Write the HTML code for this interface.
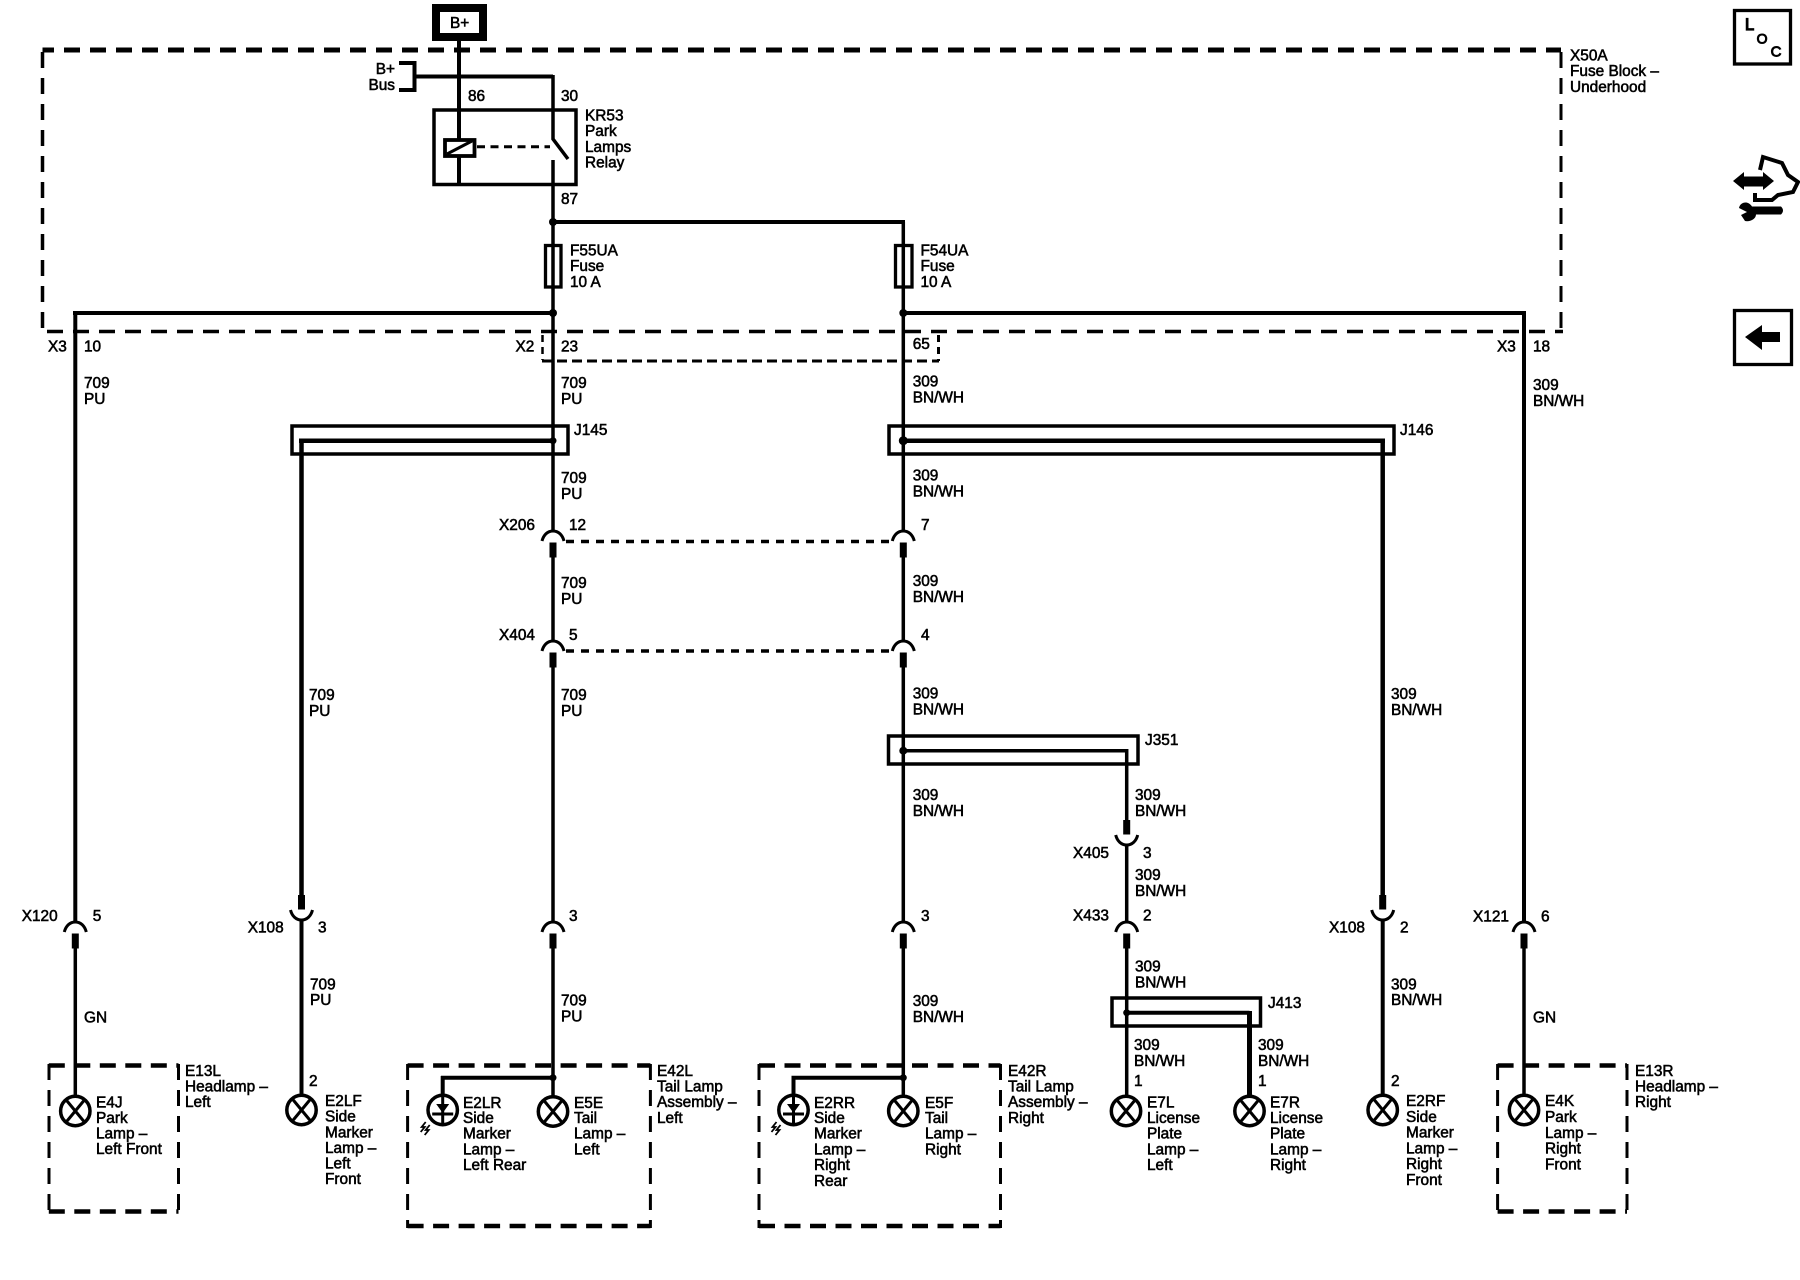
<!DOCTYPE html>
<html><head><meta charset="utf-8"><style>
html,body{margin:0;padding:0;background:#fff;width:1800px;height:1280px;overflow:hidden}
svg{display:block}
text{font-family:"Liberation Sans",sans-serif;font-size:15.4px;fill:#000;stroke:#000;stroke-width:.55px}
.w{fill:none;stroke:#000;stroke-width:4}
.b{fill:none;stroke:#000;stroke-width:3.5}
.th{fill:none;stroke:#000;stroke-width:3.5}
</style></head><body>
<svg width="1800" height="1280" viewBox="0 0 1800 1280" xmlns="http://www.w3.org/2000/svg">
<defs>
<g id="up"><path d="M-11 0C-9.500-6-5.500-10 0-10C5.500-10 9.500-6 11 0" fill="none" stroke="#000" stroke-width="3"/><rect x="-3.500" y="1.500" width="7" height="15"/></g>
<g id="dn"><path d="M-11 0C-9.500 6-5.500 10 0 10C5.500 10 9.500 6 11 0" fill="none" stroke="#000" stroke-width="3"/><rect x="-3.500" y="-15" width="7" height="14.500"/></g>
<g id="lamp"><circle r="14.700" fill="none" stroke="#000" stroke-width="3.500"/><path d="M-9.500-11.500L9.500 11.500M9.500-11.500L-9.500 11.500" stroke="#000" stroke-width="3"/></g>
<g id="led"><circle r="14.700" fill="none" stroke="#000" stroke-width="3.500"/><path d="M-6.500-6H6.500L0 3Z"/><path d="M0-15V15M-10.500 4H10.500" stroke="#000" stroke-width="3" fill="none"/><path d="M-17 12L-21 17L-18 17L-22 22M-13 15L-17 20L-14 20L-18 25" fill="none" stroke="#000" stroke-width="1.800"/></g>
</defs>

<!-- fuse block frame -->
<path d="M42.500 52H1561" fill="none" stroke="#000" stroke-width="5" stroke-dasharray="16 10" stroke-dashoffset="-21.500" transform="translate(0 -2)"/>
<path d="M42.500 48V331.500" fill="none" stroke="#000" stroke-width="3.500" stroke-dasharray="16 10" stroke-dashoffset="-4"/>
<path d="M1561 48V331.500" fill="none" stroke="#000" stroke-width="3" stroke-dasharray="16 10" stroke-dashoffset="-4"/>
<path d="M41 331.500H1563" fill="none" stroke="#000" stroke-width="3.500" stroke-dasharray="16 10" stroke-dashoffset="-6"/>
<!-- X2 -->
<path d="M542.500 335V360" fill="none" stroke="#000" stroke-width="2.500" stroke-dasharray="7 5"/>
<path d="M938.500 335V361" fill="none" stroke="#000" stroke-width="3" stroke-dasharray="7 5"/>
<path d="M542 361H939" fill="none" stroke="#000" stroke-width="3" stroke-dasharray="10 5"/>

<!-- B+ -->
<rect x="436" y="8" width="47" height="29" fill="#fff" stroke="#000" stroke-width="8"/>
<path class="w" d="M459 41V185"/>
<path class="w" d="M399 63H414.500V90H399M414.500 76.500H553"/>
<path class="b" d="M553 75V139L568 159"/>
<path class="b" d="M553 160V222"/>
<rect x="434" y="110" width="142" height="74.500" class="th"/>
<rect x="445" y="140" width="29.500" height="16" fill="#fff" stroke="#000" stroke-width="3.800"/>
<path d="M447 154L472 141" stroke="#000" stroke-width="3"/>
<path d="M477 146.700H550" fill="none" stroke="#000" stroke-width="3" stroke-dasharray="8 5.500"/>

<!-- main wires -->
<path class="w" d="M551 222H905"/>
<circle cx="553" cy="222" r="4"/>
<path class="b" d="M553 222V531"/>
<path class="b" d="M903.300 222V531"/>
<rect x="545.500" y="245.500" width="15.500" height="41.500" fill="none" stroke="#000" stroke-width="3.300"/>
<rect x="895.500" y="245.500" width="16.500" height="41.500" fill="none" stroke="#000" stroke-width="3.300"/>
<path d="M73 313H555M903 313H1526" fill="none" stroke="#000" stroke-width="4"/>
<circle cx="553" cy="313" r="4"/><circle cx="903.300" cy="313" r="4"/>
<path class="w" d="M75.300 312V923"/>
<path class="w" d="M1524 312V923"/>

<!-- J145 / J146 -->
<rect x="292" y="426" width="276" height="28" class="th"/>
<rect x="889" y="426" width="505" height="28" class="th"/>
<path d="M299 440.700H553M903 440.700H1385" fill="none" stroke="#000" stroke-width="4.500"/>
<circle cx="553" cy="440.700" r="3.500"/><circle cx="903.300" cy="440.700" r="4.500"/>
<path d="M301.500 439V896" fill="none" stroke="#000" stroke-width="4.500"/>
<path d="M1382.700 439V896" fill="none" stroke="#000" stroke-width="4.500"/>

<!-- dashed links -->
<path d="M566 541.500H893" fill="none" stroke="#000" stroke-width="3.500" stroke-dasharray="8 7"/>
<path d="M566 651H893" fill="none" stroke="#000" stroke-width="3.500" stroke-dasharray="8 7"/>

<!-- connectors -->
<use href="#up" x="553" y="541"/><use href="#up" x="903.300" y="541"/>
<use href="#up" x="553" y="651"/><use href="#up" x="903.300" y="651"/>
<path class="b" d="M553 556V641M903.300 556V641M553 666V922M903.300 666V922"/>
<use href="#up" x="75.300" y="932"/><use href="#up" x="553" y="932"/><use href="#up" x="903.300" y="932"/><use href="#up" x="1126.700" y="932"/><use href="#up" x="1524" y="932"/>
<use href="#dn" x="301.500" y="910"/><use href="#dn" x="1382.700" y="910"/><use href="#dn" x="1126.700" y="835"/>
<path class="b" d="M553 947V1097M903.300 947V1097M75.300 947V1097M1524 947V1097"/>
<path class="w" d="M301.500 919V1096M1382.700 919V1096"/>

<!-- J351 -->
<rect x="888.500" y="736" width="249.500" height="28" class="th"/>
<path class="b" d="M903 750.700H1126.700V822"/>
<circle cx="903.300" cy="750.700" r="4"/>
<path class="b" d="M1126.700 844V922M1126.700 947V1097"/>
<!-- J413 -->
<rect x="1112" y="998" width="148.500" height="28" class="th"/>
<path class="w" d="M1126.700 1012.700H1249.500"/>
<path d="M1249.500 1011V1097" fill="none" stroke="#000" stroke-width="5"/>
<circle cx="1126.700" cy="1012.700" r="3.500"/>

<!-- lamp groups -->
<g fill="none" stroke="#000">
<path stroke-width="4.500" stroke-dasharray="16 9.500" d="M48.800 1065.500H178.500M48.800 1211.500H178.500M407.600 1065.500H650.400M407.600 1226H650.400M759 1065.500H1000.500M759 1226H1000.500M1497.600 1065.500H1627M1497.600 1211.500H1627"/>
<path stroke-width="3" stroke-dasharray="16 10" d="M49 1064V1213M178.500 1064V1213M407.600 1064V1228M650.400 1064V1228M759 1064V1228M1000.500 1064V1228M1497.600 1064V1213M1627 1064V1213"/>
</g>
<path class="w" d="M441 1077.700H553M791.500 1077.700H903.300M442.700 1076V1096M793.500 1076V1096"/>
<circle cx="553" cy="1077.700" r="3.500"/><circle cx="903.300" cy="1077.700" r="3.500"/>

<!-- lamps -->
<use href="#lamp" x="75.300" y="1111"/><use href="#lamp" x="301.500" y="1110"/><use href="#lamp" x="553" y="1111.500"/>
<use href="#lamp" x="903.300" y="1111"/><use href="#lamp" x="1126" y="1111"/><use href="#lamp" x="1249.500" y="1111"/><use href="#lamp" x="1382.700" y="1110"/><use href="#lamp" x="1524" y="1110"/>
<use href="#led" x="442.700" y="1110"/><use href="#led" x="793.500" y="1110"/>

<!-- top labels -->
<text x="450" y="28">B+</text>
<text x="395" y="74" text-anchor="end">B+</text><text x="395" y="90" text-anchor="end">Bus</text>
<text x="468" y="101">86</text><text x="561" y="101">30</text><text x="561" y="204">87</text>
<text x="585" y="120.500">KR53</text><text x="585" y="136">Park</text><text x="585" y="152">Lamps</text><text x="585" y="167.500">Relay</text>
<text x="570" y="255.500">F55UA</text><text x="570" y="271">Fuse</text><text x="570" y="287">10 A</text>
<text x="920.500" y="255.500">F54UA</text><text x="920.500" y="271">Fuse</text><text x="920.500" y="287">10 A</text>
<text x="1570" y="60.500">X50A</text><text x="1570" y="76">Fuse Block –</text><text x="1570" y="92">Underhood</text>
<text x="48" y="351.500">X3</text><text x="84" y="351.500">10</text><text x="515.500" y="351.500">X2</text><text x="561" y="351.500">23</text>
<text x="912.700" y="349">65</text><text x="1497" y="351.500">X3</text><text x="1533" y="351.500">18</text>
<text x="84" y="388">709</text><text x="84" y="404">PU</text>
<text x="561" y="388">709</text><text x="561" y="404">PU</text>
<text x="912.700" y="386.500">309</text><text x="912.700" y="402.500">BN/WH</text>
<text x="1533" y="390">309</text><text x="1533" y="406">BN/WH</text>
<text x="574" y="435">J145</text><text x="1400" y="435">J146</text>
<text x="561" y="483">709</text><text x="561" y="499">PU</text>
<text x="912.700" y="480.700">309</text><text x="912.700" y="496.700">BN/WH</text>
<text x="499" y="530">X206</text><text x="569" y="530">12</text><text x="921" y="530">7</text>
<text x="561" y="588">709</text><text x="561" y="604">PU</text>
<text x="912.700" y="586">309</text><text x="912.700" y="602">BN/WH</text>
<text x="499" y="640">X404</text><text x="569" y="640">5</text><text x="921" y="640">4</text>
<text x="309" y="700">709</text><text x="309" y="716">PU</text>
<text x="561" y="700">709</text><text x="561" y="716">PU</text>
<text x="912.700" y="698.500">309</text><text x="912.700" y="714.500">BN/WH</text>
<text x="1391" y="699">309</text><text x="1391" y="715">BN/WH</text>
<text x="1145" y="745">J351</text>
<text x="912.700" y="800">309</text><text x="912.700" y="816">BN/WH</text>
<text x="1135" y="800">309</text><text x="1135" y="816">BN/WH</text>
<text x="1073" y="858">X405</text><text x="1143" y="858">3</text>
<text x="1135" y="880">309</text><text x="1135" y="896">BN/WH</text>
<text x="21.700" y="921">X120</text><text x="92.700" y="921">5</text>
<text x="247.700" y="932.700">X108</text><text x="318" y="932.700">3</text>
<text x="569" y="921">3</text><text x="921" y="921">3</text>
<text x="1073" y="920.700">X433</text><text x="1143" y="920.700">2</text>
<text x="1329" y="932.700">X108</text><text x="1400" y="932.700">2</text>
<text x="1473" y="921.700">X121</text><text x="1541" y="921.700">6</text>
<text x="1135" y="971.700">309</text><text x="1135" y="987.700">BN/WH</text>
<text x="310" y="989.300">709</text><text x="310" y="1005">PU</text>
<text x="1391" y="989.300">309</text><text x="1391" y="1005">BN/WH</text>
<text x="561" y="1005.500">709</text><text x="561" y="1021.500">PU</text>
<text x="912.700" y="1006">309</text><text x="912.700" y="1022">BN/WH</text>
<text x="1268" y="1008">J413</text>
<text x="84" y="1022.700">GN</text><text x="1533" y="1022.700">GN</text>
<text x="1134" y="1050">309</text><text x="1134" y="1066">BN/WH</text>
<text x="1258" y="1050">309</text><text x="1258" y="1066">BN/WH</text>

<!-- bottom labels -->
<text x="185" y="1076">E13L</text><text x="185" y="1091.700">Headlamp –</text><text x="185" y="1107">Left</text>
<text x="96" y="1107.300">E4J</text><text x="96" y="1123">Park</text><text x="96" y="1138.700">Lamp –</text><text x="96" y="1154">Left Front</text>
<text x="309" y="1086">2</text>
<text x="325" y="1106">E2LF</text><text x="325" y="1121.700">Side</text><text x="325" y="1137.500">Marker</text><text x="325" y="1153">Lamp –</text><text x="325" y="1168.500">Left</text><text x="325" y="1184">Front</text>
<text x="463" y="1108">E2LR</text><text x="463" y="1123">Side</text><text x="463" y="1138.700">Marker</text><text x="463" y="1154.500">Lamp –</text><text x="463" y="1170">Left Rear</text>
<text x="574" y="1108">E5E</text><text x="574" y="1123">Tail</text><text x="574" y="1138.700">Lamp –</text><text x="574" y="1154.500">Left</text>
<text x="657" y="1076">E42L</text><text x="657" y="1091.700">Tail Lamp</text><text x="657" y="1107">Assembly –</text><text x="657" y="1123">Left</text>
<text x="814" y="1108">E2RR</text><text x="814" y="1123">Side</text><text x="814" y="1138.700">Marker</text><text x="814" y="1154.500">Lamp –</text><text x="814" y="1170">Right</text><text x="814" y="1186">Rear</text>
<text x="925" y="1108">E5F</text><text x="925" y="1123">Tail</text><text x="925" y="1138.700">Lamp –</text><text x="925" y="1154.500">Right</text>
<text x="1008" y="1076">E42R</text><text x="1008" y="1091.700">Tail Lamp</text><text x="1008" y="1107">Assembly –</text><text x="1008" y="1123">Right</text>
<text x="1134" y="1086">1</text>
<text x="1147" y="1107.300">E7L</text><text x="1147" y="1123">License</text><text x="1147" y="1138.700">Plate</text><text x="1147" y="1154.500">Lamp –</text><text x="1147" y="1170">Left</text>
<text x="1258" y="1086">1</text>
<text x="1270" y="1107.300">E7R</text><text x="1270" y="1123">License</text><text x="1270" y="1138.700">Plate</text><text x="1270" y="1154.500">Lamp –</text><text x="1270" y="1170">Right</text>
<text x="1391" y="1086">2</text>
<text x="1406" y="1106">E2RF</text><text x="1406" y="1122">Side</text><text x="1406" y="1137.500">Marker</text><text x="1406" y="1153.500">Lamp –</text><text x="1406" y="1169">Right</text><text x="1406" y="1185">Front</text>
<text x="1545" y="1106">E4K</text><text x="1545" y="1122">Park</text><text x="1545" y="1138">Lamp –</text><text x="1545" y="1153.700">Right</text><text x="1545" y="1169.500">Front</text>
<text x="1635" y="1076">E13R</text><text x="1635" y="1091.700">Headlamp –</text><text x="1635" y="1107">Right</text>

<!-- side icons -->
<rect x="1734.500" y="10.500" width="56" height="53.500" fill="none" stroke="#000" stroke-width="3.300"/>
<text x="1745" y="30" style="font-size:16.500px;stroke-width:1.200px">L</text><text x="1756.600" y="43.500" style="font-size:14px;stroke-width:.9px">O</text><text x="1770.600" y="56.500" style="font-size:15px;stroke-width:.9px">C</text>
<rect x="1734.500" y="310.500" width="57" height="54" fill="none" stroke="#000" stroke-width="3.300"/>
<path d="M1745 337L1762 325V332H1780V342H1762V350Z"/>
<path d="M1733 181L1744 172V176.500H1763V172L1774 181L1763 190V186.500H1744V190Z"/>
<path d="M1760 170L1763 157L1782 163L1788 175L1798 182L1793 192L1778 195L1772 200L1755 200L1755 193" fill="none" stroke="#000" stroke-width="4"/>
<path d="M1752 206.500H1781Q1785 210.500 1781 214.500H1756C1756 219 1750 222 1745 221L1741 215L1747 212L1739 208C1740 202 1748 200 1752 206.500Z"/>
</svg>
</body></html>
